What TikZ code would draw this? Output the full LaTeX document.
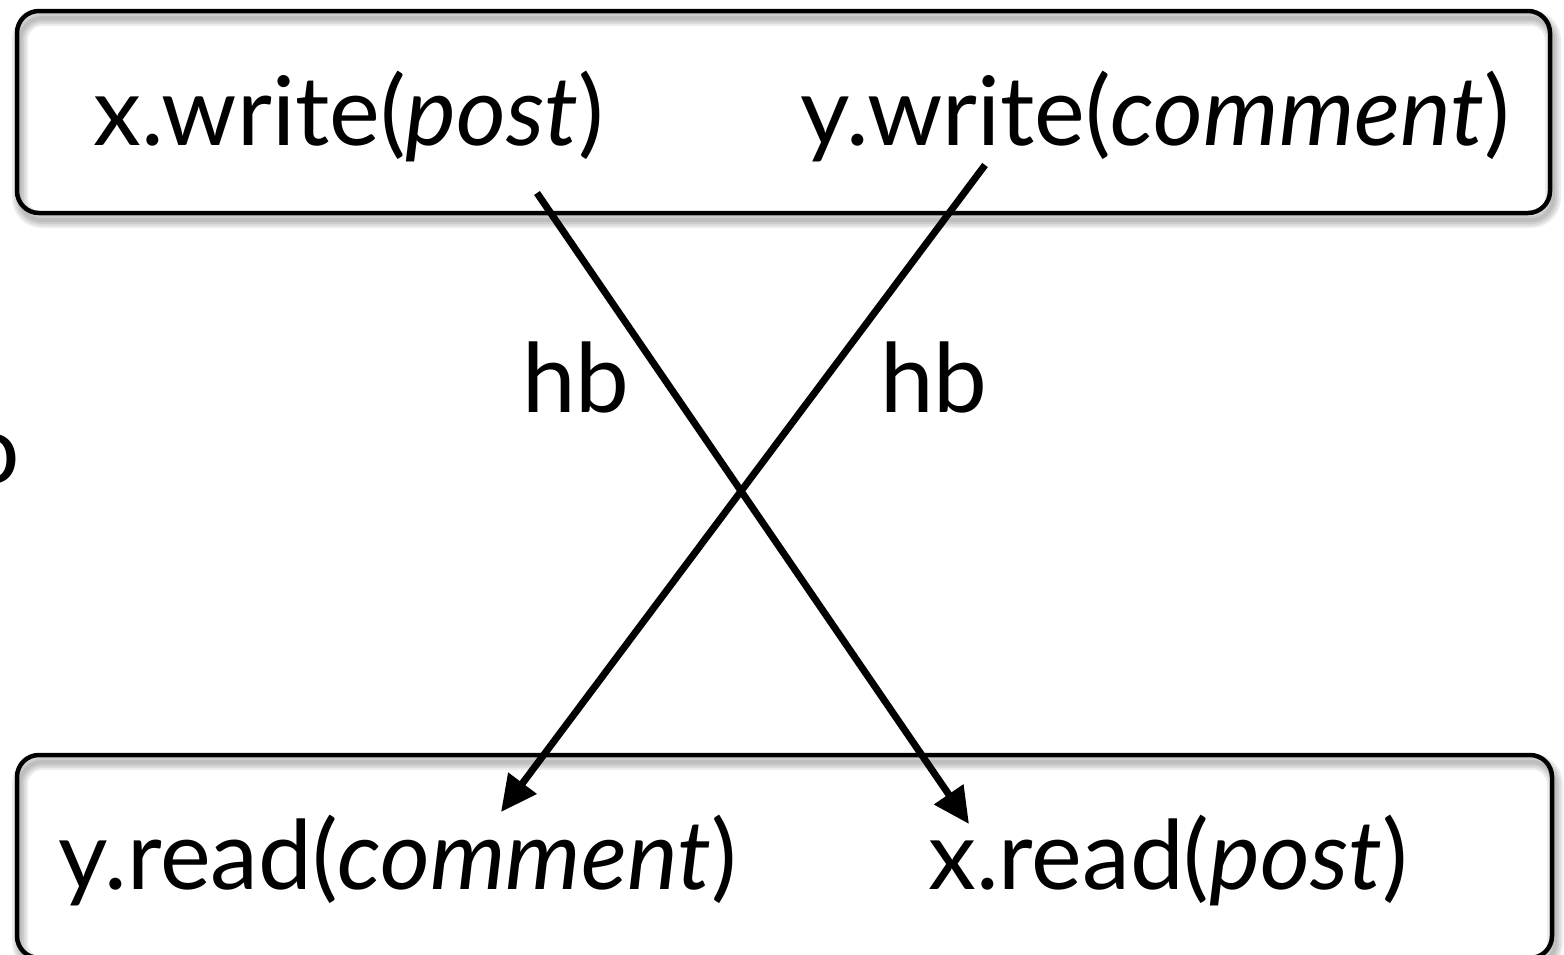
\documentclass[tikz,border=0pt]{standalone}
\usepackage{fontspec}
\setmainfont{Lato}
\usetikzlibrary{arrows.meta}

\begin{document}
\begin{tikzpicture}[x=1pt,y=-1pt,
  frame/.style={draw=black, line width=4.5pt, rounded corners=22pt},
  frameshadow/.style={draw=black, draw opacity=0.07, rounded corners=22pt},
  lbl/.style={font=\fontsize{96}{115}\selectfont, inner sep=0pt, anchor=base west},
  link/.style={line width=7pt, -{Triangle[length=36pt,width=34pt]}},
]
\useasboundingbox (0,0) rectangle (1564,954);

% soft shadows cast by the two frames
\foreach \w in {4,8,12,16}{
  \draw[frameshadow, line width=\w pt] (20,18) rectangle (1553,220);
  \draw[frameshadow, line width=\w pt] (20,762) rectangle (1555,965);
}

% the two frames
\draw[frame] (17,11) rectangle (1550,213);
\draw[frame] (17,755) rectangle (1552,958);

% operations
\node[lbl] (xw) at (93,145) {x.write(\textit{post})};
\node[lbl] (yw) at (800,145) {y.write(\textit{comment})};
\node[lbl] (yr) at (58,889) {y.read(\textit{comment})};
\node[lbl] (xr) at (928,889) {x.read(\textit{post})};

% partly visible letter at the left edge
\node[lbl, anchor=base east] (edge) at (20,483) {o};

% happens-before edges
\coordinate (s1) at (537,193);
\coordinate (e1) at (969,824);
\coordinate (s2) at (985,165);
\coordinate (e2) at (501,812);
\draw[link] (s1) -- (e1);
\draw[link] (s2) -- (e2);

\node[lbl] (hb1) at (522,412) {hb};
\node[lbl] (hb2) at (880,412) {hb};
\end{tikzpicture}
\end{document}
